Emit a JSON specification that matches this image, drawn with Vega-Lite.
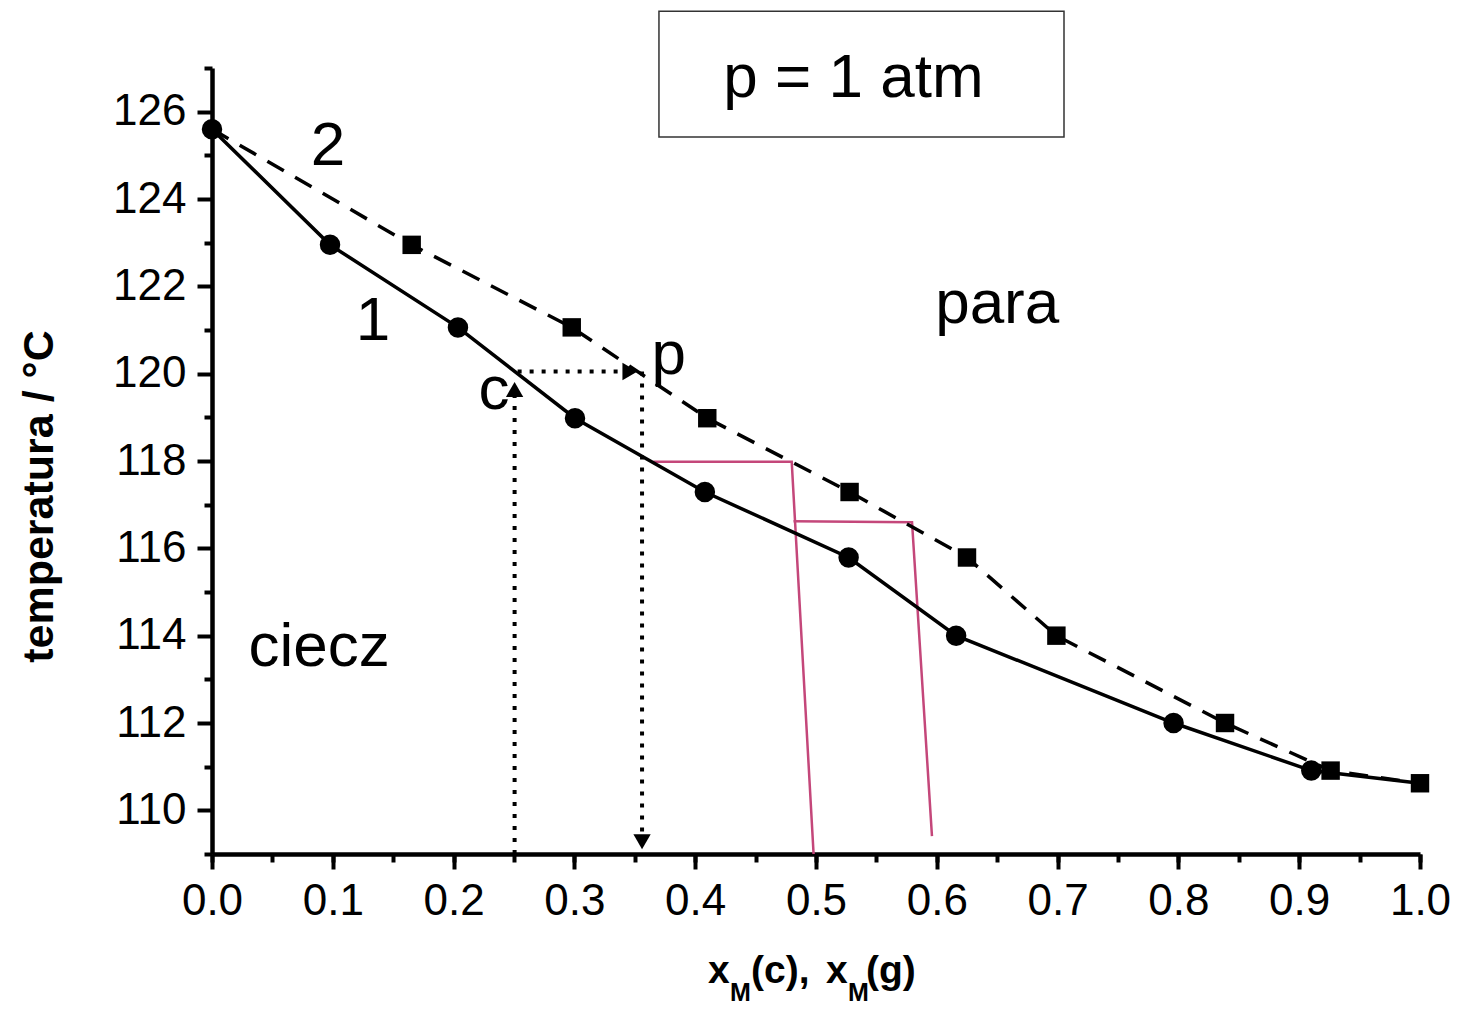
{
  "$schema": "https://vega.github.io/schema/vega-lite/v6.json",
  "width": 1208,
  "height": 786,
  "autosize": {"type": "none"},
  "padding": {"left": 212, "top": 68, "right": 39, "bottom": 155},
  "background": "white",
  "config": {
    "view": {"stroke": null},
    "font": "Liberation Sans",
    "axis": {"grid": false, "domainColor": "black", "tickColor": "black", "labelColor": "black", "titleColor": "black", "labelFont": "Liberation Sans", "titleFont": "Liberation Sans"}
  },
  "datasets": {
    "liq": [
      {"x": 0.0, "T": 125.6}, {"x": 0.0977, "T": 122.95}, {"x": 0.2036, "T": 121.06}, {"x": 0.3005, "T": 118.98},
      {"x": 0.408, "T": 117.29}, {"x": 0.527, "T": 115.79}, {"x": 0.616, "T": 114.0}, {"x": 0.796, "T": 112.0},
      {"x": 0.91, "T": 110.91}, {"x": 1.0, "T": 110.62}
    ],
    "vap": [
      {"x": 0.0, "T": 125.6}, {"x": 0.1653, "T": 122.95}, {"x": 0.2978, "T": 121.06}, {"x": 0.41, "T": 118.98},
      {"x": 0.5278, "T": 117.29}, {"x": 0.625, "T": 115.79}, {"x": 0.699, "T": 114.0}, {"x": 0.8386, "T": 112.0},
      {"x": 0.926, "T": 110.91}, {"x": 1.0, "T": 110.62}
    ],
    "pink": [
      {"k": 1, "i": 1, "x": 0.3653, "T": 117.98}, {"k": 1, "i": 2, "x": 0.4799, "T": 117.98}, {"k": 1, "i": 3, "x": 0.498, "T": 109.0},
      {"k": 2, "i": 1, "x": 0.4814, "T": 116.62}, {"k": 2, "i": 2, "x": 0.5795, "T": 116.6}, {"k": 2, "i": 3, "x": 0.596, "T": 109.41}
    ],
    "dots": [
      {"s": "h", "i": 1, "x": 0.253, "T": 120.05}, {"s": "h", "i": 2, "x": 0.342, "T": 120.05},
      {"s": "p", "i": 1, "x": 0.356, "T": 120.05}, {"s": "p", "i": 2, "x": 0.356, "T": 109.3},
      {"s": "c", "i": 1, "x": 0.2505, "T": 109.0}, {"s": "c", "i": 2, "x": 0.2505, "T": 119.5}
    ],
    "arrows": [
      {"dir": "right", "x": 0.346, "T": 120.05}, {"dir": "down", "x": 0.356, "T": 109.28}, {"dir": "up", "x": 0.2505, "T": 119.64}
    ],
    "notes": [
      {"label": "2", "x": 0.096, "T": 124.77}, {"label": "1", "x": 0.1333, "T": 120.77},
      {"label": "para", "x": 0.65, "T": 121.15}, {"label": "ciecz", "x": 0.0886, "T": 113.3},
      {"label": "c", "x": 0.2334, "T": 119.19}, {"label": "p", "x": 0.378, "T": 119.99},
      {"label": "p = 1 atm", "x": 0.531, "T": 126.34}
    ],
    "box": [{"x": 0.37, "x2": 0.7053, "T": 128.3, "T2": 125.42}],
    "xtitle": [
      {"label": "x", "x": 0.4106, "T": 106.04}, {"label": "(c),", "x": 0.4462, "T": 106.04},
      {"label": "x", "x": 0.5083, "T": 106.04}, {"label": "(g)", "x": 0.5414, "T": 106.04}
    ],
    "xsub": [
      {"label": "M", "x": 0.4288, "T": 105.63}, {"label": "M", "x": 0.5265, "T": 105.63}
    ]
  },
  "resolve": {"axis": {"x": "independent", "y": "independent"}},
  "encoding": {
    "x": {"field": "x", "type": "quantitative", "scale": {"domain": [0, 1], "zero": false, "nice": false}, "axis": null},
    "y": {"field": "T", "type": "quantitative", "scale": {"domain": [109, 127], "zero": false, "nice": false}, "axis": null}
  },
  "layer": [
    {
      "data": {"name": "pink"},
      "mark": {"type": "line", "color": "#c4477a", "strokeWidth": 2.5},
      "encoding": {
        "x": {"field": "x", "type": "quantitative", "scale": {"domain": [0, 1], "zero": false, "nice": false},
          "axis": {"orient": "bottom", "values": [0, 0.05, 0.1, 0.15, 0.2, 0.25, 0.3, 0.35, 0.4, 0.45, 0.5, 0.55, 0.6, 0.65, 0.7, 0.75, 0.8, 0.85, 0.9, 0.95, 1.0], "labels": false, "domain": false, "tickSize": 8, "tickWidth": 4, "title": null}},
        "y": {"field": "T", "type": "quantitative", "scale": {"domain": [109, 127], "zero": false, "nice": false},
          "axis": {"orient": "left", "values": [109, 111, 113, 115, 117, 119, 121, 123, 125, 127], "labels": false, "domain": false, "tickSize": 8, "tickWidth": 4, "title": null}},
        "detail": {"field": "k", "type": "nominal"},
        "order": {"field": "i", "type": "quantitative"}
      }
    },
    {
      "data": {"name": "vap"},
      "mark": {"type": "line", "color": "black", "strokeWidth": 3.5, "strokeDash": [19, 13]},
      "encoding": {
        "x": {"field": "x", "type": "quantitative", "scale": {"domain": [0, 1], "zero": false, "nice": false},
          "axis": {"orient": "bottom", "values": [0, 0.1, 0.2, 0.3, 0.4, 0.5, 0.6, 0.7, 0.8, 0.9, 1.0], "format": ".1f", "labelFontSize": 44, "labelPadding": 10, "labelOverlap": false, "labelFlush": false, "tickSize": 15, "tickWidth": 4, "domainWidth": 4.5, "title": null}},
        "y": {"field": "T", "type": "quantitative", "scale": {"domain": [109, 127], "zero": false, "nice": false},
          "axis": {"orient": "left", "values": [110, 112, 114, 116, 118, 120, 122, 124, 126], "labelFontSize": 44, "labelPadding": 11, "labelOverlap": false, "tickSize": 15, "tickWidth": 4, "domainWidth": 4.5,
            "title": "temperatura / °C", "titleFontSize": 43, "titleFontWeight": "bold", "titleAngle": -90, "titleX": -160, "titleY": 428, "titleBaseline": "alphabetic", "titleAlign": "center"}}
      }
    },
    {
      "data": {"name": "liq"},
      "mark": {"type": "line", "color": "black", "strokeWidth": 3.5}
    },
    {
      "data": {"name": "dots"},
      "mark": {"type": "line", "color": "black", "strokeWidth": 4, "strokeDash": [4, 8]},
      "encoding": {
        "detail": {"field": "s", "type": "nominal"},
        "order": {"field": "i", "type": "quantitative"}
      }
    },
    {
      "data": {"name": "arrows"},
      "mark": {"type": "point", "filled": true, "color": "black", "size": 300, "opacity": 1},
      "encoding": {
        "shape": {"field": "dir", "type": "nominal", "scale": {"domain": ["up", "down", "right"], "range": ["triangle-up", "triangle-down", "triangle-right"]}, "legend": null}
      }
    },
    {
      "data": {"name": "vap"},
      "transform": [{"filter": "datum.x > 0"}],
      "mark": {"type": "point", "shape": "square", "filled": true, "color": "black", "size": 340, "opacity": 1}
    },
    {
      "data": {"name": "liq"},
      "transform": [{"filter": "datum.x < 1"}],
      "mark": {"type": "point", "shape": "circle", "filled": true, "color": "black", "size": 420, "opacity": 1}
    },
    {
      "data": {"name": "box"},
      "mark": {"type": "rect", "fill": "white", "stroke": "#333333", "strokeWidth": 1.5},
      "encoding": {
        "x2": {"field": "x2"},
        "y2": {"field": "T2"}
      }
    },
    {
      "data": {"name": "notes"},
      "mark": {"type": "text", "fontSize": 62, "color": "black", "align": "center", "baseline": "alphabetic", "font": "Liberation Sans"},
      "encoding": {"text": {"field": "label", "type": "nominal"}}
    },
    {
      "data": {"name": "xtitle"},
      "mark": {"type": "text", "fontSize": 39, "fontWeight": "bold", "color": "black", "align": "left", "baseline": "alphabetic", "font": "Liberation Sans"},
      "encoding": {"text": {"field": "label", "type": "nominal"}}
    },
    {
      "data": {"name": "xsub"},
      "mark": {"type": "text", "fontSize": 25, "fontWeight": "bold", "color": "black", "align": "left", "baseline": "alphabetic", "font": "Liberation Sans"},
      "encoding": {"text": {"field": "label", "type": "nominal"}}
    }
  ]
}
